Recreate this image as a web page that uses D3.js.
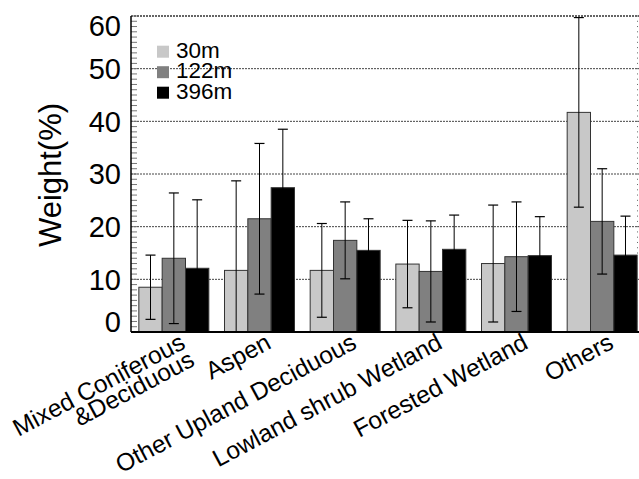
<!DOCTYPE html>
<html>
<head>
<meta charset="utf-8">
<script src="https://cdn.jsdelivr.net/npm/d3@7"></script>
<style>
  html, body { margin: 0; padding: 0; background: #fff; }
  svg { display: block; font-family: "Liberation Sans", Arial, Helvetica, sans-serif; }
</style>
</head>
<body>
<svg id="chart" width="639" height="479"></svg>
<script>
// Land-cover classes along the x axis
const categories = [
  "Mixed Coniferous\n&Deciduous",
  "Aspen",
  "Other Upland Deciduous",
  "Lowland shrub Wetland",
  "Forested Wetland",
  "Others"
];
// Resolutions shown in the legend
const seriesNames = ["30m", "122m", "396m"];
const seriesColors = ["#c8c8c8", "#808080", "#000000"];

// Mean weight (%) per class for each resolution
const values30m  = [8.5, 11.7, 11.7, 12.9, 13.0, 41.7];
const values122m = [14.0, 21.5, 17.4, 11.5, 14.3, 21.0];
const values396m = [12.1, 27.4, 15.5, 15.7, 14.5, 14.6];
// Standard deviation (%) per class for each resolution
const errors30m  = [6.1, 17.0, 8.9, 8.3, 11.1, 18.0];
const errors122m = [12.4, 14.3, 7.3, 9.6, 10.4, 10.0];
const errors396m = [13.0, 11.1, 6.0, 6.5, 7.4, 7.4];

const yTicks = [0, 10, 20, 30, 40, 50, 60];

const seriesValues = [values30m, values122m, values396m];
const seriesErrors = [errors30m, errors122m, errors396m];

const svg = d3.select("#chart");
const plotLeft = 131, plotRight = 645, plotTop = 16, plotBottom = 332;

const x0 = d3.scaleBand().domain(categories).range([plotLeft, plotRight])
  .paddingInner(0.183).paddingOuter(0.0915);
const x1 = d3.scaleBand().domain(seriesNames).range([0, x0.bandwidth()]);
const y = d3.scaleLinear().domain([0, 60]).range([plotBottom, plotTop]);

svg.append("defs").append("clipPath").attr("id", "plotClip")
  .append("rect").attr("x", plotLeft).attr("y", plotTop)
  .attr("width", plotRight - plotLeft).attr("height", plotBottom - plotTop);

// dotted horizontal grid lines
svg.append("g").selectAll("line").data(yTicks.filter(t => t > 0 && t < 60)).join("line")
  .attr("x1", plotLeft).attr("x2", plotRight)
  .attr("y1", d => y(d)).attr("y2", d => y(d))
  .attr("stroke", "#444").attr("stroke-width", 1)
  .attr("stroke-dasharray", "2,1");

// top frame drawn as dotted line
svg.append("line").attr("x1", plotLeft).attr("x2", plotRight)
  .attr("y1", y(60)).attr("y2", y(60))
  .attr("stroke", "#333").attr("stroke-width", 1.5)
  .attr("stroke-dasharray", "2,1");

// bars
const rows = categories.map((c, i) => ({
  cat: c,
  items: seriesNames.map((s, j) => ({ s, j, v: seriesValues[j][i], e: seriesErrors[j][i] }))
}));

const plot = svg.append("g").attr("clip-path", "url(#plotClip)");
const groups = plot.selectAll("g.grp").data(rows).join("g")
  .attr("class", "grp")
  .attr("transform", d => `translate(${x0(d.cat)},0)`);

groups.selectAll("rect").data(d => d.items).join("rect")
  .attr("x", d => x1(d.s))
  .attr("y", d => y(d.v))
  .attr("width", x1.bandwidth())
  .attr("height", d => y(0) - y(d.v))
  .attr("fill", d => seriesColors[d.j])
  .attr("stroke", "#333").attr("stroke-width", 1);

// error bars
const eb = groups.selectAll("g.err").data(d => d.items).join("g").attr("class", "err");
const cx = d => x1(d.s) + x1.bandwidth() / 2;
eb.append("line")
  .attr("x1", cx).attr("x2", cx)
  .attr("y1", d => y(d.v + d.e)).attr("y2", d => y(d.v - d.e))
  .attr("stroke", "#000").attr("stroke-width", 1);
eb.append("line")
  .attr("x1", d => cx(d) - 5).attr("x2", d => cx(d) + 5)
  .attr("y1", d => y(d.v + d.e)).attr("y2", d => y(d.v + d.e))
  .attr("stroke", "#000").attr("stroke-width", 1.2);
eb.append("line")
  .attr("x1", d => cx(d) - 5).attr("x2", d => cx(d) + 5)
  .attr("y1", d => y(d.v - d.e)).attr("y2", d => y(d.v - d.e))
  .attr("stroke", "#000").attr("stroke-width", 1.2);

// minor ticks on left and right axes, every 1 %
const minor = d3.range(0, 61, 1);
svg.append("g").selectAll("line").data(minor).join("line")
  .attr("x1", plotLeft).attr("x2", plotLeft + 6)
  .attr("y1", d => y(d)).attr("y2", d => y(d))
  .attr("stroke", "#777").attr("stroke-width", 1);
svg.append("g").selectAll("line").data(minor).join("line")
  .attr("x1", plotRight - 8).attr("x2", plotRight)
  .attr("y1", d => y(d)).attr("y2", d => y(d))
  .attr("stroke", "#666").attr("stroke-width", 1)
  .attr("stroke-dasharray", "1,1");

// axis lines
svg.append("line").attr("x1", plotLeft).attr("x2", plotLeft).attr("y1", plotTop).attr("y2", plotBottom)
  .attr("stroke", "#000").attr("stroke-width", 1.5);
svg.append("line").attr("x1", plotLeft).attr("x2", plotRight).attr("y1", plotBottom).attr("y2", plotBottom)
  .attr("stroke", "#000").attr("stroke-width", 2);

// y tick labels, kept inside the plot height at the ends
svg.append("g").selectAll("text").data(yTicks).join("text")
  .attr("x", 121)
  .attr("y", d => Math.min(Math.max(y(d), plotTop + 10), plotBottom - 10) + 10.4)
  .attr("text-anchor", "end")
  .attr("font-size", 29)
  .attr("fill", "#000")
  .text(d => d);

// y axis title
svg.append("text")
  .attr("transform", "translate(61,175) rotate(-90)")
  .attr("text-anchor", "middle")
  .attr("font-size", 31)
  .text("Weight(%)");

// rotated category labels
const xl = svg.append("g").selectAll("text").data(categories).join("text")
  .attr("transform", d => `translate(${x0(d) + x0.bandwidth() / 2 + 13},347.5) rotate(-28)`)
  .attr("text-anchor", "end")
  .attr("font-size", 24.5);
xl.selectAll("tspan").data(d => d.split("\n")).join("tspan")
  .attr("x", 0)
  .attr("dy", (d, i) => i === 0 ? 0 : "0.8em")
  .text(d => d);

// legend
const lg = svg.append("g").selectAll("g").data(seriesNames).join("g")
  .attr("transform", (d, i) => `translate(157,${45.7 + i * 20.5})`);
lg.append("rect").attr("width", 12).attr("height", 12)
  .attr("fill", (d, i) => seriesColors[i]);
lg.append("text").attr("x", 19).attr("y", 12)
  .attr("font-size", 22.5).text(d => d);
</script>
</body>
</html>
